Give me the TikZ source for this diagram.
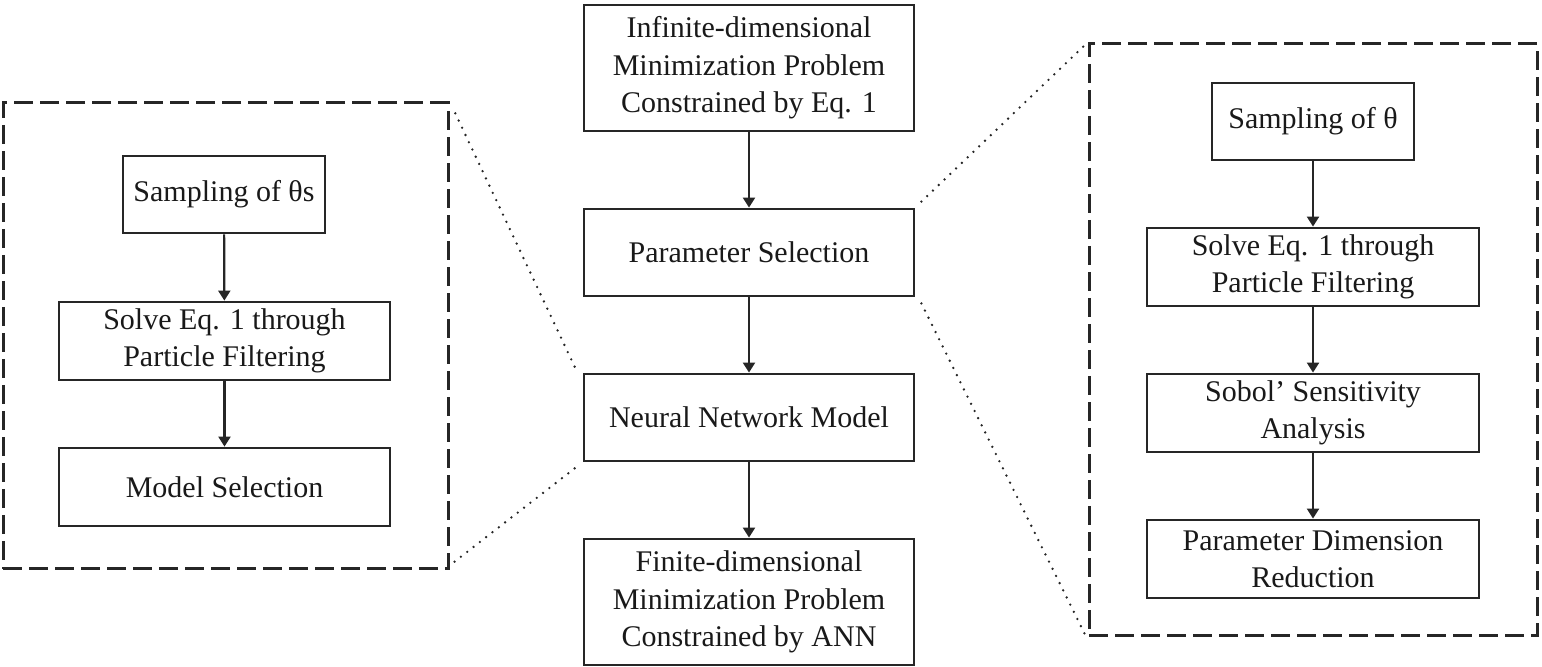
\documentclass[tikz,border=0pt]{standalone}
\usepackage{fontspec}
\setmainfont{Liberation Serif}
\usetikzlibrary{arrows.meta}
\begin{document}
\begin{tikzpicture}[x=0.5pt,y=-0.5pt,
  box/.style={draw=black!85, line width=1.4pt, rectangle, inner sep=0pt, align=center,
    font=\fontsize{15}{18.7}\selectfont, text=black!90},
  frame/.style={draw=black!85, line width=1.5pt, rectangle, inner sep=0pt, dash pattern=on 9.5pt off 3.5pt},
  arr/.style={draw=black!85, line width=1.1pt, -{Triangle[width=6pt,length=5pt]}},
  dots/.style={draw=black!85, line width=1.3pt, line cap=round, dash pattern=on 0pt off 4pt}
]
\useasboundingbox (0,0) rectangle (1542,667);
% frames
\node[frame, minimum width=222.5pt, minimum height=233pt] (lf) at (225.5,336) {};
\node[frame, minimum width=224pt, minimum height=296pt] (rf) at (1313,340) {};
% center column
\node[box, minimum width=165pt, minimum height=63pt] (inf) at (749,68) {Infinite-dimensional\\Minimization Problem\\Constrained by Eq. 1};
\node[box, minimum width=165pt, minimum height=43.5pt] (ps) at (749,252.5) {Parameter Selection};
\node[box, minimum width=165pt, minimum height=43.5pt] (nn) at (749,417.5) {Neural Network Model};
\node[box, minimum width=165pt, minimum height=63pt] (fin) at (749,602) {Finite-dimensional\\Minimization Problem\\Constrained by ANN};
% left column
\node[box, minimum width=101pt, minimum height=38.5pt] (l1) at (224,194.5) {Sampling of θs};
\node[box, minimum width=165.5pt, minimum height=39pt] (l2) at (224.5,341) {Solve Eq. 1 through\\Particle Filtering};
\node[box, minimum width=165.5pt, minimum height=39pt] (l3) at (224.5,487) {Model Selection};
% right column
\node[box, minimum width=101pt, minimum height=38.5pt] (r1) at (1313,121.5) {Sampling of θ};
\node[box, minimum width=166pt, minimum height=39pt] (r2) at (1313,267) {Solve Eq. 1 through\\Particle Filtering};
\node[box, minimum width=166pt, minimum height=39pt] (r3) at (1313,413) {Sobol’ Sensitivity\\Analysis};
\node[box, minimum width=166pt, minimum height=39pt] (r4) at (1313,559) {Parameter Dimension\\Reduction};
% arrows
\draw[arr] (inf) -- (ps);
\draw[arr] (ps) -- (nn);
\draw[arr] (nn) -- (fin);
\draw[arr] (l1) -- (l2);
\draw[arr] (l2) -- (l3);
\draw[arr] (r1) -- (r2);
\draw[arr] (r2) -- (r3);
\draw[arr] (r3) -- (r4);
% dotted zoom lines
\draw[dots] ([xshift=-4pt,yshift=3pt]nn.north west) -- ([xshift=2pt,yshift=-4pt]lf.north east);
\draw[dots] ([xshift=-4pt,yshift=-3pt]nn.south west) -- ([xshift=2pt,yshift=4pt]lf.south east);
\draw[dots] ([xshift=3pt,yshift=3pt]ps.north east) -- ([xshift=-1pt,yshift=-1pt]rf.north west);
\draw[dots] ([xshift=3pt,yshift=-3pt]ps.south east) -- ([xshift=-1pt,yshift=1pt]rf.south west);
\end{tikzpicture}
\end{document}
